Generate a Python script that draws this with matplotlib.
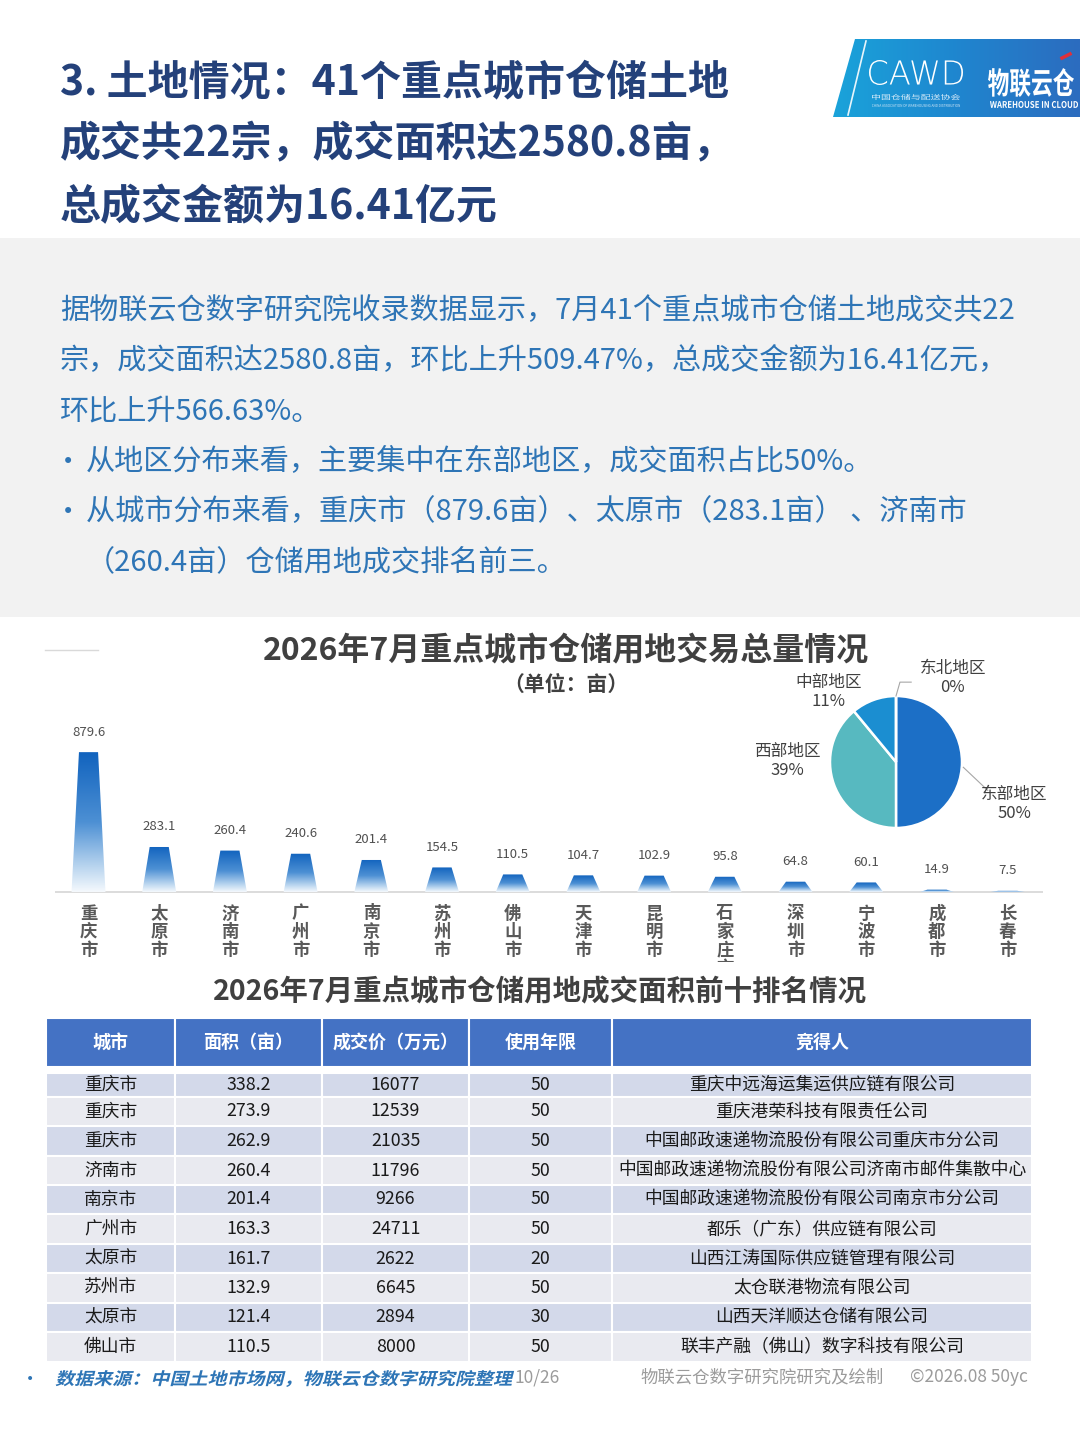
#!/usr/bin/env python3
"""Land deals in 41 key cities: bar chart, regional pie and top-ten table."""

import matplotlib
matplotlib.use('Agg')
from matplotlib import pyplot as plt
from matplotlib import transforms as mtransforms
from matplotlib.colors import LinearSegmentedColormap
from matplotlib.font_manager import FontProperties
from matplotlib.patches import Polygon, Rectangle, PathPatch
from matplotlib.textpath import TextPath
import numpy as np

plt.rcParams['font.family'] = ['Noto Sans CJK SC', 'DejaVu Sans']

# Page text.
TITLE_LINES = ['3. 土地情况：41个重点城市仓储土地',
               '成交共22宗，成交面积达2580.8亩，',
               '总成交金额为16.41亿元']
INTRO_LINES = ['据物联云仓数字研究院收录数据显示，7月41个重点城市仓储土地成交共22',
               '宗，成交面积达2580.8亩，环比上升509.47%，总成交金额为16.41亿元，',
               '环比上升566.63%。']
BULLET_LINES = ['从地区分布来看，主要集中在东部地区，成交面积占比50%。',
                '从城市分布来看，重庆市（879.6亩）、太原市（283.1亩） 、济南市']
BULLET_TAIL = '（260.4亩）仓储用地成交排名前三。'

# Bar chart data.
BAR_TITLE = '2026年7月重点城市仓储用地交易总量情况'
BAR_UNIT = '（单位：亩）'
CITIES = ['重庆市', '太原市', '济南市', '广州市', '南京市', '苏州市', '佛山市',
          '天津市', '昆明市', '石家庄市', '深圳市', '宁波市', '成都市', '长春市']
AREAS = [879.6, 283.1, 260.4, 240.6, 201.4, 154.5, 110.5,
         104.7, 102.9, 95.8, 64.8, 60.1, 14.9, 7.5]

# Pie data.
REGIONS = ['东部地区', '西部地区', '中部地区', '东北地区']
REGION_SHARE = [50, 39, 11, 0]
REGION_COLORS = ['#1c6fc6', '#57b9c0', '#1b8ed1', '#2f5597']

# Table data.
TABLE_TITLE = '2026年7月重点城市仓储用地成交面积前十排名情况'
TABLE_HEADER = ['城市', '面积（亩）', '成交价（万元）', '使用年限', '竞得人']
TABLE_CITY = ['重庆市', '重庆市', '重庆市', '济南市', '南京市',
              '广州市', '太原市', '苏州市', '太原市', '佛山市']
TABLE_AREA = ['338.2', '273.9', '262.9', '260.4', '201.4',
              '163.3', '161.7', '132.9', '121.4', '110.5']
TABLE_PRICE = ['16077', '12539', '21035', '11796', '9266',
               '24711', '2622', '6645', '2894', '8000']
TABLE_YEARS = ['50', '50', '50', '50', '50', '50', '20', '50', '30', '50']
TABLE_WINNER = ['重庆中远海运集运供应链有限公司',
                '重庆港荣科技有限责任公司',
                '中国邮政速递物流股份有限公司重庆市分公司',
                '中国邮政速递物流股份有限公司济南市邮件集散中心',
                '中国邮政速递物流股份有限公司南京市分公司',
                '都乐（广东）供应链有限公司',
                '山西江涛国际供应链管理有限公司',
                '太仓联港物流有限公司',
                '山西天洋顺达仓储有限公司',
                '联丰产融（佛山）数字科技有限公司']

SOURCE = '数据来源：中国土地市场网，物联云仓数字研究院整理'
PAGE_NO = '10/26'
CREDIT = '物联云仓数字研究院研究及绘制'
STAMP = '©2026.08 50yc'

W, H = 1080, 1439


def fig_rect(x0, y0, x1, y1):
    """Pixel box (top-left origin) to figure fraction rect."""
    return [x0 / W, 1 - y1 / H, (x1 - x0) / W, (y1 - y0) / H]


def fit_text(ax, s, box, color, skew=0.0, weight='normal',
             family='Noto Sans CJK SC'):
    """Draw text as a path stretched into a pixel box on the page axes."""
    tp = TextPath((0, 0), s, size=40, prop=FontProperties(family=family, weight=weight))
    ext = tp.get_extents()
    x0, y0, x1, y1 = box
    tr = (mtransforms.Affine2D()
          .translate(-ext.x0, -ext.y0)
          .scale((x1 - x0) / ext.width, (y1 - y0) / ext.height)
          .skew_deg(skew, 0)
          .scale(1, -1)
          .translate(x0, y1))
    ax.add_patch(PathPatch(tr.transform_path(tp), facecolor=color,
                           edgecolor='none', lw=0))


def draw_page(fig):
    """Background, header, intro text, logo and footer."""
    bg = fig.add_axes([0, 0, 1, 1])
    bg.set_xlim(0, W)
    bg.set_ylim(H, 0)
    bg.axis('off')

    for k, line in enumerate(TITLE_LINES):
        bg.text(60, 82 + 62.5 * k, line, fontsize=29.5, weight='bold',
                color='#24417a', va='center')

    bg.add_patch(Rectangle((0, 238), W, 379, facecolor='#f2f2f2', edgecolor='none'))
    blue = '#2e75b6'
    for k, line in enumerate(INTRO_LINES):
        bg.text(60, 311 + 50 * k, line, fontsize=21, color=blue, va='center')
    for k, line in enumerate(BULLET_LINES):
        y = 462 + 50 * k
        bg.text(62, y, '•', fontsize=15, color=blue, va='center',
                family='DejaVu Sans')
        bg.text(86, y, line, fontsize=21, color=blue, va='center')
    bg.text(86, 562, BULLET_TAIL, fontsize=21, color=blue, va='center')

    # Logo block.
    logo = Polygon([(833, 117), (855, 39), (W, 39), (W, 117)], closed=True,
                   facecolor='none', edgecolor='none')
    bg.add_patch(logo)
    cmap = LinearSegmentedColormap.from_list('logo', ['#1aa3da', '#1f86cf', '#2c6cbf'])
    im = bg.imshow(np.linspace(0, 1, 128)[None, :], cmap=cmap, aspect='auto',
                   extent=(833, W, 117, 39), zorder=1)
    im.set_clip_path(logo)
    bg.plot([866, 848], [41, 115], color='white', lw=1.2, alpha=0.9, zorder=2)
    fit_text(bg, 'CAWD', (869, 60, 963, 85), 'white', family='DejaVu Sans',
             weight='light')
    fit_text(bg, '中国仓储与配送协会', (872, 94, 960, 100), '#dceefa')
    fit_text(bg, 'CHINA ASSOCIATION OF WAREHOUSING AND DISTRIBUTION',
             (872, 104, 960, 107), '#cfe6f6')
    fit_text(bg, '物联云仓', (988, 68, 1074, 97), 'white', weight='bold')
    fit_text(bg, 'WAREHOUSE IN CLOUD', (990, 101, 1078, 108), 'white', weight='bold')
    bg.plot([1062, 1070], [58, 54], color='#e0303a', lw=2.5, zorder=3)

    # Thin decoration left of the chart title.
    bg.plot([45, 98], [650, 650], color='#d9d9d9', lw=1)
    bg.text(566, 651, BAR_TITLE, fontsize=23, weight='bold', color='#404040',
            ha='center', va='center')
    bg.text(566, 684, BAR_UNIT, fontsize=15, weight='bold', color='#404040',
            ha='center', va='center')
    bg.text(540, 992, TABLE_TITLE, fontsize=20.5, weight='bold', color='#404040',
            ha='center', va='center')

    # Footer.
    bg.text(26, 1379, '•', fontsize=10, color=blue, va='center',
            family='DejaVu Sans')
    fit_text(bg, SOURCE, (55, 1370, 511, 1387), blue, skew=14, weight='bold')
    gray = '#9b9b9b'
    bg.text(514, 1377, PAGE_NO, fontsize=12.5, color=gray, va='center')
    bg.text(640, 1377, CREDIT, fontsize=12.5, color=gray, va='center')
    bg.text(910, 1377, STAMP, fontsize=12.5, color=gray, va='center')
    return bg


def draw_bars(fig):
    """Tapered gradient bars with value labels and stacked city names."""
    ax = fig.add_axes(fig_rect(55, 700, 1043, 962))
    ax.axis('off')
    px_per_unit = 0.159
    x_lim = (-0.474, 13.5)
    y_lim = (-(962 - 892) / px_per_unit, (892 - 700) / px_per_unit)

    cmap = LinearSegmentedColormap.from_list(
        'bar', [(0.0, '#f5f9fd'), (0.18, '#b9d5ef'), (0.5, '#4d90d4'),
                (1.0, '#1163be')])
    grad = np.linspace(0, 1, 256)[:, None]
    below = mtransforms.offset_copy(ax.transData, fig=fig, y=-9, units='points')

    for i, (city, area) in enumerate(zip(CITIES, AREAS)):
        shape = Polygon([(i - 0.24, 0), (i - 0.135, area), (i + 0.135, area),
                         (i + 0.24, 0)], closed=True, facecolor='none',
                        edgecolor='none')
        ax.add_patch(shape)
        im = ax.imshow(grad, cmap=cmap, origin='lower', aspect='auto',
                       extent=(i - 0.25, i + 0.25, 0, area), zorder=2)
        im.set_clip_path(shape)
        ax.annotate(f'{area}', xy=(i, area), xytext=(0, 14.5),
                    textcoords='offset points', ha='center', va='center',
                    fontsize=9.5, color='#505050')
        ax.text(i, 0, '\n'.join(city), transform=below, ha='center', va='top',
                fontsize=12.5, weight='bold', color='#595959', linespacing=1.02,
                clip_on=True)

    ax.axhline(0, color='#d9d9d9', lw=1.3, zorder=1)
    ax.set_xlim(*x_lim)
    ax.set_ylim(*y_lim)


def draw_pie(fig):
    """Regional share pie with outside labels."""
    cx, cy, r = 896, 762, 66
    pad = 1.03
    pax = fig.add_axes(fig_rect(cx - r * pad, cy - r * pad, cx + r * pad, cy + r * pad))
    pax.pie(REGION_SHARE, colors=REGION_COLORS, startangle=90, counterclock=False,
            wedgeprops=dict(edgecolor='white', linewidth=1.8))
    pax.set_xlim(-pad, pad)
    pax.set_ylim(-pad, pad)
    pax.set_aspect('equal')

    label_pos = [(1.79, -0.63), (-1.64, 0.02), (-1.02, 1.06), (0.86, 1.27)]
    for name, share, (lx, ly) in zip(REGIONS, REGION_SHARE, label_pos):
        pax.text(lx, ly, f'{name}\n{share}%', ha='center', va='center',
                 fontsize=12, color='#404040', linespacing=1.15)
    pax.plot([1.02, 1.39], [-0.08, -0.43], color='#a6a6a6', lw=0.8, clip_on=False)
    pax.plot([0.0, 0.06, 0.23], [1.0, 1.21, 1.21], color='#a6a6a6', lw=0.8,
             clip_on=False)


def draw_table(fig):
    """Top ten land deals table."""
    col_w = [129, 147, 147, 143, 420]
    head_h, gap = 49, 6
    row_h = [24, 29, 30, 29, 29, 30, 29, 30, 29, 30]
    total_w = sum(col_w)
    total_h = head_h + gap + sum(row_h)
    tax = fig.add_axes(fig_rect(46, 1018, 46 + total_w, 1018 + total_h))
    tax.set_xlim(0, total_w)
    tax.set_ylim(total_h, 0)
    tax.axis('off')

    edges = np.concatenate([[0], np.cumsum(col_w)])
    for c, head in enumerate(TABLE_HEADER):
        tax.add_patch(Rectangle((edges[c], 0), col_w[c], head_h,
                                facecolor='#4472c4', edgecolor='white', lw=1.5))
        tax.text((edges[c] + edges[c + 1]) / 2, head_h / 2, head, ha='center',
                 va='center', fontsize=13, weight='bold', color='white')

    columns = [TABLE_CITY, TABLE_AREA, TABLE_PRICE, TABLE_YEARS, TABLE_WINNER]
    y = head_h + gap
    for r, h in enumerate(row_h):
        face = '#d3d9ea' if r % 2 == 0 else '#e9eaf0'
        for c, col in enumerate(columns):
            tax.add_patch(Rectangle((edges[c], y), col_w[c], h,
                                    facecolor=face, edgecolor='white', lw=1.5))
            tax.text((edges[c] + edges[c + 1]) / 2, y + h / 2, col[r],
                     ha='center', va='center', fontsize=12.8, color='#1a1a1a')
        y += h


def main():
    """Build the whole page and save it."""
    fig = plt.figure(figsize=(W / 100, H / 100), dpi=100)
    fig.patch.set_facecolor('white')
    draw_page(fig)
    draw_bars(fig)
    draw_pie(fig)
    draw_table(fig)
    fig.savefig('out.png', dpi=100)


if __name__ == '__main__':
    main()
